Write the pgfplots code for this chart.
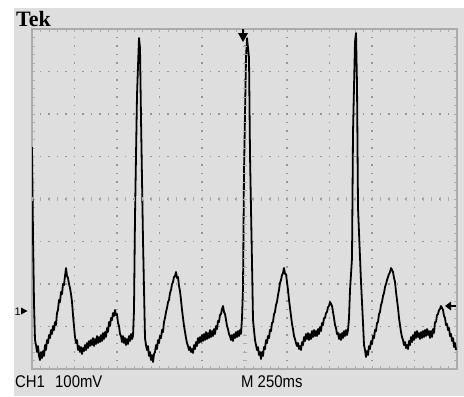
\documentclass[border=0pt]{standalone}
\usepackage{fontspec}
\setmainfont{Liberation Serif}
\setsansfont{Liberation Sans}
\usepackage{pgfplots}
\pgfplotsset{compat=1.18}
\definecolor{tekbg}{RGB}{222,222,222}
\definecolor{tekgrid}{RGB}{150,150,150}
\definecolor{tekframe}{RGB}{172,172,172}
\begin{document}
\begin{tikzpicture}[x=1bp,y=1bp]
\useasboundingbox (0,0) rectangle (464,396);
\fill[white] (0,0) rectangle (464,396);
\fill[tekbg] (14,0) rectangle (464,388);
\begin{axis}[
  at={(32bp,27bp)}, anchor=south west,
  scale only axis, width=425bp, height=340bp,
  xmin=32, xmax=457, ymin=29, ymax=369, y dir=reverse,
  xtick={32,74.5,117,159.5,202,244.5,287,329.5,372,414.5,457},
  ytick={29,71.5,114,156.5,199,241.5,284,326.5,369},
  minor x tick num=4, minor y tick num=4,
  xticklabels={}, yticklabels={},
  xtick pos=both, ytick pos=both,
  tick align=inside,
  major tick length=3bp, minor tick length=3bp,
  every tick/.style={tekframe, line width=0.8bp},
  axis line style={tekframe, line width=1.2bp},
  xmajorgrids, ymajorgrids,
  major grid style={tekgrid, line width=1.2bp, dash pattern=on 1.2bp off 7.3bp, dash phase=0.6bp},
]
\addplot[black, line width=1.8bp, line join=round] coordinates {
(32,147)(33,235)(34,303)(35,340)(36,345)(37,352)(38,346)(39,356)(40,360)(41,352)(42,358)(43,351)(44,356)(45,345)(46,350)(47,340)(48,343)(49,335)(50,338)(51,330)(52,334)(53,326)(54,330)(55,322)(56,325)(57,313)(58,310)(59,300)(60,302)(61,292)(62,294)(63,284)(64,285)(65,276)(66,268)(67,276)(68,278)(69,284)(70,288)(71,294)(72,302)(73,315)(74,326)
(75,337)(76,343)(77,340)(78,350)(79,346)(80,352)(81,347)(82,354)(83,348)(84,351)(85,345)(86,350)(87,343)(88,348)(89,341)(90,346)(91,340)(92,345)(93,338)(94,346)(95,339)(96,344)(97,336)(98,343)(99,337)(100,342)(101,335)(102,341)(103,333)(104,339)(105,332)(106,337)(107,328)(108,332)(109,322)(110,326)(111,318)(112,320)(113,313)(114,316)(115,310)(116,315)(117,314)(118,323)(119,326)(120,334)(121,336)(122,342)(123,336)(124,343)(125,338)(126,345)(127,339)(128,344)(129,336)(130,341)(131,334)(132,339)(133,336)
(134,310)(135,217)(137,95)(139,38)(140,48)(141,118)(143,240)(145,338)(146,345)(147,350)(148,346)(149,356)(150,352)(151,360)(152,355)(153,362)(154,354)(155,352)(156,345)(157,349)(158,340)(159,343)(160,336)(161,338)(162,330)(163,332)(164,322)(165,318)(166,312)(167,308)(168,302)(169,300)(170,293)(171,290)(172,284)(173,282)(174,277)(175,276)(176,272)(177,278)(178,277)(179,286)(180,291)(181,300)(182,310)(183,318)(184,326)(185,332)(186,338)(187,343)(188,346)(189,350)(190,347)(191,352)(192,349)(193,353)(194,345)(195,349)(196,342)(197,346)(198,338)(199,343)(200,337)(201,342)(202,335)(203,341)(204,334)(205,340)(206,332)(207,339)(208,333)(209,338)(210,330)(211,337)(212,331)(213,336)(214,329)(215,334)(216,326)(217,329)(218,321)(219,322)(220,315)(221,314)(222,309)(223,306)(224,312)(225,314)(226,320)(227,326)(228,329)(229,334)(230,336)(231,340)(232,335)(233,341)(234,334)(235,338)(236,332)(237,337)(238,331)(239,336)(240,330)(241,334)
(242,318)(243,288)(244,172)(246,58)(247,38)(249,58)(250,155)(252,263)(253,320)(255,340)(256,345)(257,350)(258,347)(259,355)(260,352)(261,359)(262,352)(263,356)(264,347)(265,349)(266,340)(267,343)(268,336)(269,338)(270,330)(271,331)(272,323)(273,322)(274,314)(275,312)(276,305)(277,302)(278,295)(279,290)(280,283)(281,280)(282,275)(283,273)(284,268)(285,274)(286,274)(287,282)(288,290)(289,300)(290,308)(291,316)(292,324)(293,329)(294,336)(295,339)(296,343)(297,346)(298,343)(299,349)(300,346)(301,350)(302,342)(303,345)(304,337)(305,341)(306,334)(307,339)(308,333)(309,340)(310,334)(311,339)(312,331)(313,337)(314,330)(315,336)(316,331)(317,336)(318,329)(319,334)(320,327)(321,331)(322,323)(323,325)(324,318)(325,318)(326,313)(327,312)(328,307)(329,306)(330,302)(331,304)(332,306)(333,312)(334,318)(335,325)(336,328)(337,334)(338,333)(339,339)(340,334)(341,340)(342,333)(343,338)(344,331)(345,336)(346,330)(347,335)(348,330)
(349,318)(350,290)(352,258)(353,132)(355,42)(356,33)(357,85)(358,208)(361,282)(363,323)(364,345)(365,350)(366,357)(367,351)(368,355)(369,346)(370,349)(371,341)(372,344)(373,336)(374,338)(375,330)(376,331)(377,323)(378,322)(379,314)(380,312)(381,305)(382,302)(383,296)(384,293)(385,287)(386,284)(387,280)(388,277)(389,274)(390,272)(391,268)(392,270)(393,272)(394,278)(395,282)(396,292)(397,300)(398,308)(399,318)(400,325)(401,332)(402,337)(403,340)(404,345)(405,342)(406,348)(407,345)(408,349)(409,341)(410,345)(411,337)(412,342)(413,335)(414,340)(415,332)(416,338)(417,331)(418,337)(419,333)(420,339)(421,332)(422,338)(423,331)(424,337)(425,330)(426,336)(427,329)(428,335)(429,331)(430,338)(431,331)(432,337)(433,329)(434,333)(435,322)(436,322)(437,315)(438,314)(439,310)(440,309)(441,306)(442,308)(443,310)(444,316)(445,318)(446,325)(447,324)(448,330)(449,328)(450,336)(451,334)(452,341)(453,338)(454,347)(455,343)(456,350)
};
\end{axis}
% centre-line ticks
\foreach \i in {0,...,50} \draw[tekframe, line width=0.8bp] (32+\i*8.5,195) -- (32+\i*8.5,199);
\foreach \i in {0,...,40} \draw[tekframe, line width=0.8bp] (242.5,27+\i*8.5) -- (246.5,27+\i*8.5);
% texts
\node[anchor=base west, inner sep=0pt, font=\fontsize{22}{24}\selectfont\bfseries] at (16,370) {Tek};
\node[anchor=base west, inner sep=0pt, font=\sffamily\fontsize{17}{19}\selectfont] at (15,9) {\scalebox{0.88}[1]{CH1}};
\node[anchor=base west, inner sep=0pt, font=\sffamily\fontsize{17}{19}\selectfont] at (55,9) {\scalebox{0.88}[1]{100mV}};
\node[anchor=base west, inner sep=0pt, font=\sffamily\fontsize{17}{19}\selectfont] at (241,9) {\scalebox{0.88}[1]{M 250ms}};
% channel ground marker
\node[anchor=base west, inner sep=0pt, font=\sffamily\fontsize{11}{13}\selectfont] at (14.5,81) {1};
\fill[black] (21,88.5) -- (27.5,85) -- (21,81.5) -- cycle;
% trigger level marker
\draw[black, line width=1.3bp] (449,90) -- (456,90);
\fill[black] (445,90) -- (451,94.5) -- (451,85.5) -- cycle;
% trigger position marker
\draw[black, line width=1.5bp] (243,367) -- (243,362);
\fill[black] (238,363) -- (248,363) -- (243,354) -- cycle;
\end{tikzpicture}
\end{document}
